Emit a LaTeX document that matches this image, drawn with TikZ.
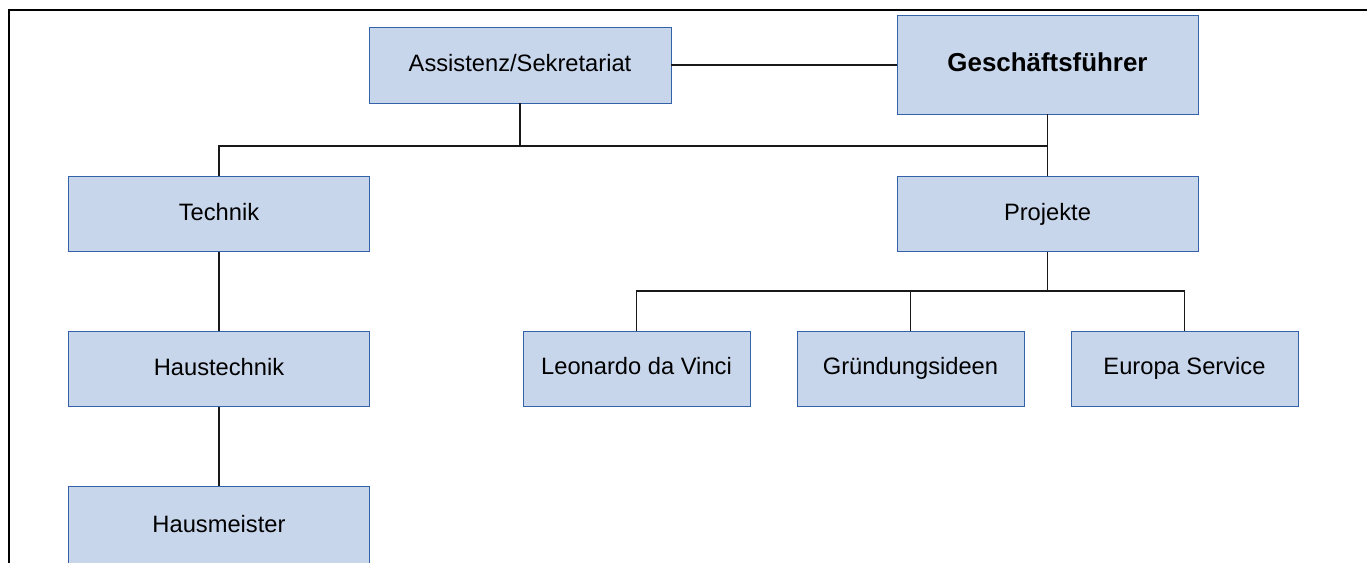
\documentclass[tikz,border=0pt]{standalone}
\usepackage{fontspec}
\setmainfont{Liberation Sans}
\definecolor{boxfill}{RGB}{200,214,236}
\definecolor{boxline}{RGB}{52,98,168}
\definecolor{wire}{RGB}{25,25,25}
\begin{document}
\begin{tikzpicture}[x=1pt,y=-1pt,
  unit/.style={draw=boxline, line width=0.9pt, fill=boxfill, inner sep=0pt,
    minimum width=301pt, minimum height=75pt,
    text height=17pt, text depth=5pt,
    font=\fontsize{23.7}{28}\selectfont},
  leaf/.style={unit, minimum width=227pt},
  head/.style={unit, minimum height=99pt, text height=18.5pt, text depth=5.5pt,
    font=\fontsize{25.9}{30}\selectfont\bfseries},
  link/.style={draw=wire, line width=1.9pt}]
\useasboundingbox (0,0) rectangle (1367,562);
\clip (0,0) rectangle (1367,562);
% outer frame, running off the page on the right and below
\draw[line width=2pt] (8.5,9.5) rectangle (1420,620);

\node[unit, minimum width=302pt, minimum height=76pt] (asst) at (520,65) {Assistenz/Sekretariat};
\node[head] (gf) at (1047.5,64.5) {Geschäftsführer};
\node[unit] (tech) at (219,214) {Technik};
\node[unit] (proj) at (1047.5,214) {Projekte};
\node[unit] (haus) at (219,369) {Haustechnik};
\node[unit, minimum height=80pt] (hm) at (219,526) {Hausmeister};
\node[leaf] (leo) at (636.5,368.5) {Leonardo da Vinci};
\node[leaf] (gru) at (910.5,368.5) {Gründungsideen};
\node[leaf] (eur) at (1184.5,368.5) {Europa Service};

\coordinate (busA) at (520,146);
\coordinate (busB) at (1047.5,291);

\draw[link] (asst.east) -- (asst.east -| gf.west);
\draw[link] (asst.south) -- (busA);
\draw[link] (tech.north) |- (gf.south |- busA);
\draw[link] (gf.south) -- (proj.north);
\draw[link] (tech.south) -- (haus.north);
\draw[link] (haus.south) -- (hm.north);
\draw[link] (proj.south) -- (busB);
\draw[link] (leo.north) |- (eur.north |- busB) -- (eur.north);
\draw[link] (gru.north) -- (gru.north |- busB);
\end{tikzpicture}
\end{document}
